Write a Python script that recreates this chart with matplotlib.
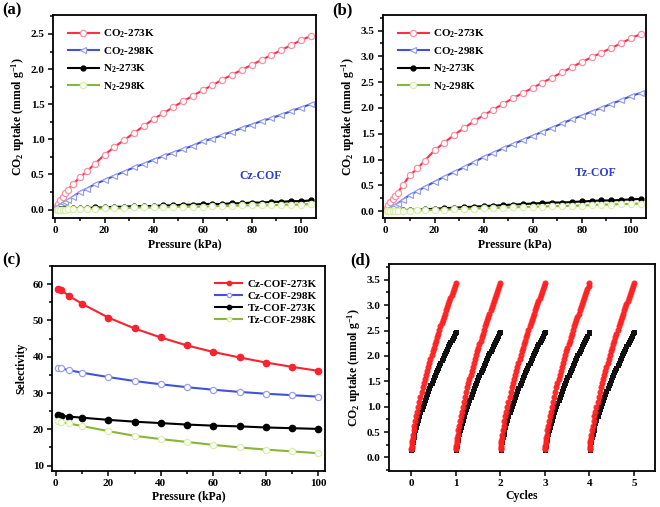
import matplotlib
matplotlib.use("Agg")
import matplotlib.pyplot as plt
from matplotlib.ticker import AutoMinorLocator, MultipleLocator, FuncFormatter

plt.rcParams['font.family'] = ['Liberation Serif', 'DejaVu Serif']
plt.rcParams['font.weight'] = 'bold'
plt.rcParams['mathtext.fontset'] = 'custom'
plt.rcParams['mathtext.rm'] = 'Liberation Serif:bold'
plt.rcParams['mathtext.it'] = 'Liberation Serif:bold'
plt.rcParams['mathtext.bf'] = 'Liberation Serif:bold'
plt.rcParams['mathtext.default'] = 'rm'
plt.rcParams['axes.linewidth'] = 1.3

# ---- isotherm data (a), (b) ----
pres = [0.5, 1, 2, 3, 4, 5, 7, 10, 13, 16, 20, 24, 28, 32, 36, 40, 44, 48,
        52, 56, 60, 64, 68, 72, 76, 80, 84, 88, 92, 96, 100, 104]

cz_co2_273 = [0.05, 0.08, 0.13, 0.18, 0.23, 0.28, 0.36, 0.46, 0.55, 0.65, 0.78, 0.89,
              0.99, 1.09, 1.19, 1.29, 1.37, 1.46, 1.54, 1.62, 1.70, 1.77, 1.85, 1.92,
              1.99, 2.06, 2.13, 2.20, 2.27, 2.34, 2.41, 2.47]
cz_co2_298 = [0.03, 0.05, 0.07, 0.09, 0.11, 0.13, 0.18, 0.25, 0.30, 0.36, 0.42, 0.48,
              0.54, 0.60, 0.65, 0.71, 0.76, 0.81, 0.86, 0.91, 0.97, 1.01, 1.06, 1.11,
              1.16, 1.21, 1.26, 1.30, 1.35, 1.40, 1.45, 1.50]
cz_n2_273 = [0.0, 0.0, 0.01, 0.01, 0.01, 0.01, 0.02, 0.02, 0.02, 0.03, 0.03, 0.04,
             0.04, 0.05, 0.05, 0.05, 0.06, 0.06, 0.07, 0.07, 0.08, 0.08, 0.08, 0.09,
             0.09, 0.10, 0.10, 0.11, 0.11, 0.12, 0.12, 0.13]
cz_n2_298 = [0.0, 0.0, 0.0, 0.0, 0.0, 0.01, 0.01, 0.01, 0.01, 0.01, 0.02, 0.02,
             0.02, 0.03, 0.03, 0.03, 0.03, 0.04, 0.04, 0.04, 0.04, 0.05, 0.05, 0.05,
             0.06, 0.06, 0.06, 0.06, 0.07, 0.07, 0.07, 0.08]

tz_co2_273 = [0.06, 0.12, 0.18, 0.24, 0.30, 0.36, 0.50, 0.70, 0.83, 0.98, 1.18, 1.33,
              1.48, 1.61, 1.74, 1.86, 1.97, 2.08, 2.19, 2.29, 2.39, 2.49, 2.59, 2.69,
              2.79, 2.89, 2.98, 3.07, 3.16, 3.25, 3.35, 3.43]
tz_co2_298 = [0.02, 0.04, 0.07, 0.09, 0.12, 0.15, 0.22, 0.32, 0.39, 0.47, 0.57, 0.67,
              0.76, 0.85, 0.95, 1.05, 1.13, 1.22, 1.30, 1.38, 1.46, 1.54, 1.62, 1.70,
              1.78, 1.85, 1.93, 2.00, 2.08, 2.15, 2.23, 2.29]
tz_n2_273 = [0.0, 0.0, 0.0, 0.0, 0.0, 0.01, 0.02, 0.03, 0.03, 0.04, 0.05, 0.06,
             0.07, 0.08, 0.09, 0.10, 0.11, 0.12, 0.13, 0.14, 0.15, 0.16, 0.17, 0.17,
             0.18, 0.19, 0.20, 0.21, 0.21, 0.22, 0.23, 0.24]
tz_n2_298 = [0.0, 0.0, 0.0, 0.0, 0.0, 0.0, 0.01, 0.01, 0.02, 0.02, 0.03, 0.03,
             0.04, 0.05, 0.05, 0.06, 0.06, 0.07, 0.08, 0.08, 0.09, 0.09, 0.10, 0.10,
             0.11, 0.11, 0.12, 0.13, 0.13, 0.14, 0.14, 0.15]

# ---- selectivity (c) ----
pres_c = [1, 2, 5, 10, 20, 30, 40, 50, 60, 70, 80, 90, 100]
sel_cz_273 = [58.8, 58.4, 56.8, 54.6, 50.8, 47.8, 45.3, 43.1, 41.3, 39.8, 38.4, 37.2, 36.1]
sel_cz_298 = [37.0, 36.8, 36.3, 35.6, 34.4, 33.3, 32.4, 31.6, 30.9, 30.3, 29.8, 29.4, 29.0]
sel_tz_273 = [23.8, 23.7, 23.5, 23.2, 22.6, 22.1, 21.7, 21.3, 21.0, 20.8, 20.5, 20.3, 20.1]
sel_tz_298 = [22.2, 22.0, 21.6, 20.9, 19.5, 18.2, 17.3, 16.5, 15.7, 15.0, 14.4, 13.9, 13.4]

# ---- cycling (d) ----
cycles = [0, 1, 2, 3, 4]
cyc_frac = [0.003, 0.006, 0.01, 0.015, 0.02, 0.03, 0.04, 0.055, 0.07, 0.09, 0.11, 0.13,
            0.155, 0.18, 0.205, 0.23, 0.255, 0.28, 0.305, 0.33, 0.355, 0.38, 0.405, 0.43,
            0.455, 0.48, 0.505, 0.53, 0.555, 0.58, 0.605, 0.63, 0.655, 0.68, 0.705, 0.73,
            0.755, 0.78, 0.805, 0.83, 0.855, 0.88, 0.905, 0.93, 0.955, 0.98, 1.0]
cyc_red = [0.16, 0.19, 0.23, 0.28, 0.32, 0.39, 0.45, 0.54, 0.62, 0.72, 0.81, 0.90,
           1.00, 1.10, 1.20, 1.29, 1.38, 1.47, 1.55, 1.63, 1.71, 1.79, 1.87, 1.94,
           2.02, 2.09, 2.16, 2.23, 2.30, 2.37, 2.44, 2.51, 2.58, 2.64, 2.71, 2.77,
           2.83, 2.90, 2.96, 3.02, 3.08, 3.14, 3.20, 3.26, 3.32, 3.38, 3.43]
cyc_black = [0.14, 0.17, 0.20, 0.23, 0.25, 0.30, 0.35, 0.41, 0.47, 0.54, 0.61, 0.67,
             0.74, 0.82, 0.89, 0.95, 1.01, 1.08, 1.14, 1.19, 1.25, 1.31, 1.36, 1.42,
             1.47, 1.52, 1.58, 1.63, 1.68, 1.73, 1.77, 1.82, 1.87, 1.92, 1.96, 2.01,
             2.05, 2.10, 2.14, 2.19, 2.23, 2.28, 2.32, 2.36, 2.40, 2.45, 2.48]

RED = '#fb2f4a'
BLUE = '#3f52d8'
BLUE_M = '#9aa0f0'
BLACK = '#000000'
GREEN = '#8ab43a'
GREEN_M = '#d8f0a8'

fig = plt.figure(figsize=(6.6, 5.07), dpi=100)
ax_a = fig.add_axes([0.0803, 0.570, 0.3985, 0.4004])
ax_b = fig.add_axes([0.5803, 0.570, 0.3985, 0.4004])
ax_c = fig.add_axes([0.0788, 0.0710, 0.4136, 0.4043])
ax_d = fig.add_axes([0.5894, 0.0716, 0.4030, 0.4077])

tick_fs = 8
lab_fs = 8.5
one_dec = FuncFormatter(lambda v, p: '%.1f' % v)


def style(ax):
    ax.tick_params(which='both', direction='out', top=False, right=False,
                   labelsize=tick_fs, width=1.1, pad=2.5)
    ax.tick_params(which='major', length=3.5)
    ax.tick_params(which='minor', length=2)
    ax.xaxis.set_minor_locator(AutoMinorLocator(2))
    ax.yaxis.set_minor_locator(AutoMinorLocator(2))


def isotherm(ax, co2_273, co2_298, n2_273, n2_298):
    ax.plot(pres, co2_273, '-o', color=RED, mfc='white', mec='#ff8fa0', ms=4.5,
            mew=0.9, lw=1.5, label='CO$_2$-273K')
    ax.plot(pres, co2_298, '-<', color=BLUE, mfc='white', mec=BLUE_M, ms=4.5,
            mew=0.9, lw=1.5, label='CO$_2$-298K')
    ax.plot(pres, n2_273, '-o', color=BLACK, mfc=BLACK, mec=BLACK, ms=3.5,
            lw=1.5, label='N$_2$-273K')
    ax.plot(pres, n2_298, '-o', color=GREEN, mfc='white', mec=GREEN_M, ms=4.5,
            mew=0.9, lw=1.5, label='N$_2$-298K')
    ax.set_xlim(-1, 106.2)
    ax.xaxis.set_major_locator(MultipleLocator(20))
    ax.yaxis.set_major_locator(MultipleLocator(0.5))
    ax.yaxis.set_major_formatter(one_dec)
    ax.set_xlabel('Pressure (kPa)', fontsize=lab_fs, fontweight='bold', labelpad=2)
    ax.set_ylabel('CO$_2$ uptake (mmol g$^{-1}$)', fontsize=lab_fs,
                  fontweight='bold', labelpad=3)
    ax.legend(loc='upper left', bbox_to_anchor=(0.03, 0.97), frameon=False,
              fontsize=8, handlelength=2.8, labelspacing=0.45,
              handletextpad=0.4, borderaxespad=0.2)
    style(ax)


# (a)
isotherm(ax_a, cz_co2_273, cz_co2_298, cz_n2_273, cz_n2_298)
ax_a.set_ylim(-0.12, 2.77)
ax_a.text(0.71, 0.19, 'Cz-COF', transform=ax_a.transAxes, color='#2b3fd0',
          fontsize=8.5, fontweight='bold')

# (b)
isotherm(ax_b, tz_co2_273, tz_co2_298, tz_n2_273, tz_n2_298)
ax_b.set_ylim(-0.13, 3.8)
ax_b.text(0.73, 0.205, 'Tz-COF', transform=ax_b.transAxes, color='#2b3fd0',
          fontsize=8.5, fontweight='bold')

# (c)
ax_c.plot(pres_c, sel_cz_273, '-o', color='#f7232f', mfc='#f7232f', mec='#f7232f',
          ms=4.5, lw=1.5, label='Cz-COF-273K')
ax_c.plot(pres_c, sel_cz_298, '-o', color=BLUE, mfc='white', mec=BLUE_M,
          ms=4.5, mew=0.9, lw=1.5, label='Cz-COF-298K')
ax_c.plot(pres_c, sel_tz_273, '-o', color=BLACK, mfc=BLACK, mec=BLACK,
          ms=4.5, lw=1.5, label='Tz-COF-273K')
ax_c.plot(pres_c, sel_tz_298, '-o', color=GREEN, mfc='white', mec=GREEN_M,
          ms=4.5, mew=0.9, lw=1.5, label='Tz-COF-298K')
ax_c.set_xlim(-1.4, 102.5)
ax_c.set_ylim(8.5, 65)
ax_c.xaxis.set_major_locator(MultipleLocator(20))
ax_c.yaxis.set_major_locator(MultipleLocator(10))
ax_c.set_xlabel('Pressure (kPa)', fontsize=lab_fs, fontweight='bold', labelpad=1.5)
ax_c.set_ylabel('Selectivity', fontsize=lab_fs, fontweight='bold', labelpad=4)
ax_c.legend(loc='upper right', bbox_to_anchor=(0.99, 0.965), frameon=False,
            fontsize=8, handlelength=2.4, labelspacing=0.2,
            handletextpad=0.5, borderaxespad=0.1, markerscale=0.7)
style(ax_c)

# (d)
for c in cycles:
    xs = [c + f for f in cyc_frac]
    ax_d.plot(xs, cyc_black, 's', color='#111111', ms=3.6, mew=0)
    ax_d.plot(xs, cyc_red, 'o', color='#ff2020', ms=4.4, mew=0, alpha=0.95)
ax_d.set_xlim(-0.5, 5.47)
ax_d.set_ylim(-0.26, 3.81)
ax_d.xaxis.set_major_locator(MultipleLocator(1))
ax_d.yaxis.set_major_locator(MultipleLocator(0.5))
ax_d.yaxis.set_major_formatter(one_dec)
ax_d.set_xlabel('Cycles', fontsize=lab_fs, fontweight='bold', labelpad=1.5)
ax_d.set_ylabel('CO$_2$ uptake (mmol g$^{-1}$)', fontsize=lab_fs,
                fontweight='bold', labelpad=3)
style(ax_d)
ax_d.tick_params(axis='x', which='minor', length=0)

# panel letters
for x, y, s in [(0.003, 0.972, '(a)'), (0.503, 0.972, '(b)'),
                (0.003, 0.478, '(c)'), (0.530, 0.478, '(d)')]:
    fig.text(x, y, s, fontsize=12, fontweight='bold')

fig.savefig('out.png', dpi=100)
